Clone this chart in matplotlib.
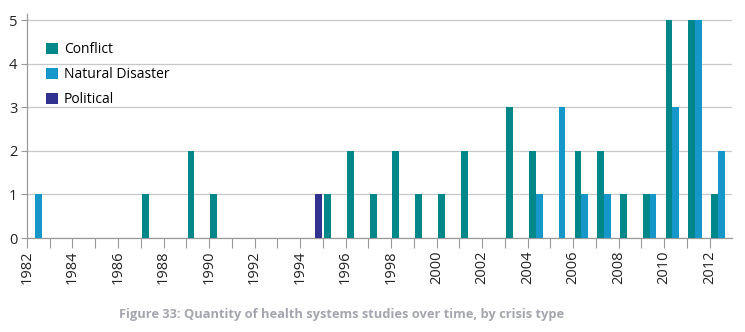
#!/usr/bin/env python3
"""
health systems studies per year, grouped by crisis type
"""
import numpy as np
import matplotlib
matplotlib.use('Agg')
import matplotlib.pyplot as plt

plt.rcParams['font.family'] = ['Open Sans', 'DejaVu Sans']

#%% data
years = list(range(1982, 2013))
conflict = [0, 0, 0, 0, 0, 1, 0, 2, 1, 0, 0, 0, 0, 1, 2, 1, 2, 1, 1, 2,
            0, 3, 2, 0, 2, 2, 1, 1, 5, 5, 1]
natural = [1, 0, 0, 0, 0, 0, 0, 0, 0, 0, 0, 0, 0, 0, 0, 0, 0, 0, 0, 0,
           0, 0, 1, 3, 1, 1, 0, 1, 3, 5, 2]
political = [0, 0, 0, 0, 0, 0, 0, 0, 0, 0, 0, 0, 1, 0, 0, 0, 0, 0, 0, 0,
             0, 0, 0, 0, 0, 0, 0, 0, 0, 0, 0]
series = ['Conflict', 'Natural Disaster', 'Political']
colors = ['#00878a', '#1597c9', '#31318f']
caption = 'Figure 33: Quantity of health systems studies over time, by crisis type'

#%% plot
fg = plt.figure(figsize=(7.45, 3.32), dpi=100)
ax = fg.add_axes([0.0362, 0.283, 0.947, 0.675])

x = np.array(years, dtype=float)
w = 0.3
for i, (vals, lab, c) in enumerate(zip([conflict, natural, political], series, colors)):
    ax.bar(x + 0.06 + w * (i + 0.5), vals, width=w, color=c, label=lab, zorder=3)

ax.set_xlim(1982, 2013)
ax.set_ylim(0, 5.14)
ax.set_yticks(range(6))
ax.set_xticks(years)
ax.set_xticklabels([str(y) if y % 2 == 0 else '' for y in years], rotation=90,
                   fontsize=10.5, color='#222222')
ax.tick_params(axis='y', labelsize=10.5, labelcolor='#222222', color='#999999',
               length=4, width=0.8, pad=3)
ax.tick_params(axis='x', color='#999999', length=7, width=0.8, pad=2)

ax.grid(axis='y', color='#c8c8c8', linewidth=0.9, zorder=0)
for s in ('top', 'right'):
    ax.spines[s].set_visible(False)
for s in ('left', 'bottom'):
    ax.spines[s].set_color('#999999')
    ax.spines[s].set_linewidth(0.9)

ax.legend(loc='upper left', bbox_to_anchor=(0.027, 0.875), frameon=False,
          fontsize=10, handlelength=0.85, handleheight=0.85, handletextpad=0.45,
          labelspacing=0.72, borderpad=0, borderaxespad=0)

fg.text(0.459, 0.054, caption, ha='center', va='center', fontsize=9.3,
        fontweight='bold', color='#a3a6ae')

fg.savefig('out.png', dpi=100)
